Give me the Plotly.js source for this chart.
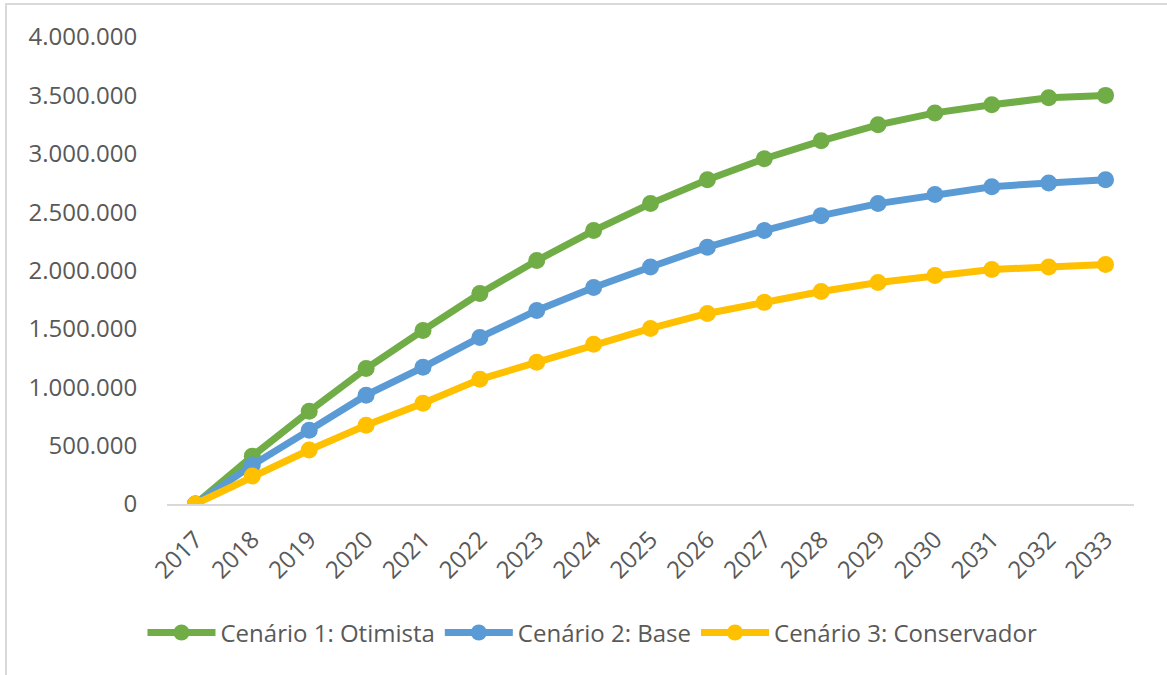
<!DOCTYPE html>
<html>
<head>
<meta charset="utf-8">
<script src="https://cdn.plot.ly/plotly-3.0.1.min.js"></script>
<style>
  html, body { margin: 0; padding: 0; background: #fff; }
  #wrap { position: relative; width: 1167px; height: 675px; }
  #chart { width: 1167px; height: 675px; }
  #frame { position: absolute; left: 5px; top: 3px; right: 0; bottom: 0;
           border-left: 2px solid #d9d9d9; border-top: 2px solid #d9d9d9; pointer-events: none; }
</style>
</head>
<body>
<div id="wrap">
  <div id="chart"></div>
  <div id="frame"></div>
</div>
<script>
const years = ['2017','2018','2019','2020','2021','2022','2023','2024','2025','2026','2027','2028','2029','2030','2031','2032','2033'];
const otimista = [0, 410000, 795000, 1160000, 1487000, 1803000, 2085000, 2342000, 2573000, 2778000, 2957000, 3111000, 3248000, 3350000, 3419000, 3479000, 3500000];
const base = [0, 333000, 632000, 932000, 1171000, 1427000, 1658000, 1855000, 2030000, 2200000, 2342000, 2470000, 2573000, 2650000, 2718000, 2750000, 2778000];
const conservador = [0, 239000, 462000, 675000, 863000, 1068000, 1214000, 1368000, 1504000, 1632000, 1727000, 1820000, 1897000, 1957000, 2009000, 2030000, 2051000];
const names = ['Cenário 1: Otimista', 'Cenário 2: Base', 'Cenário 3: Conservador'];
const colors = ['#70AD47', '#5B9BD5', '#FFC000'];
const series = [otimista, base, conservador];

const traces = series.map((s, i) => ({
  type: 'scatter', mode: 'lines+markers',
  x: years, y: s, name: names[i],
  line: { color: colors[i], width: 7 },
  marker: { color: colors[i], size: 17 }
}));

const font = { family: '"Open Sans", "Segoe UI", sans-serif', color: '#595959' };

const layout = {
  width: 1167, height: 675,
  margin: { l: 167, r: 33, t: 37, b: 171 },
  paper_bgcolor: '#fff', plot_bgcolor: '#fff',
  separators: ',.',
  font: Object.assign({ size: 24 }, font),
  showlegend: true,
  xaxis: {
    type: 'category', range: [-0.5, 16.5],
    showgrid: false, zeroline: false,
    showline: true, linecolor: '#d9d9d9', linewidth: 2,
    ticks: 'outside', ticklen: 10, tickcolor: 'rgba(0,0,0,0)',
    tickangle: -45,
    tickfont: Object.assign({ size: 24 }, font)
  },
  yaxis: {
    range: [0, 4000000], dtick: 500000, tickformat: ',d',
    showgrid: false, zeroline: false, showline: false,
    ticks: 'outside', ticklen: 24, tickcolor: 'rgba(0,0,0,0)',
    tickfont: Object.assign({ size: 24 }, font)
  },
  legend: {
    orientation: 'h', x: 0.44, xanchor: 'center', y: -0.276, yanchor: 'middle',
    font: Object.assign({ size: 24 }, font),
    itemwidth: 68, traceorder: 'normal'
  }
};

Plotly.newPlot('chart', traces, layout, { displayModeBar: false, staticPlot: true });
</script>
</body>
</html>
